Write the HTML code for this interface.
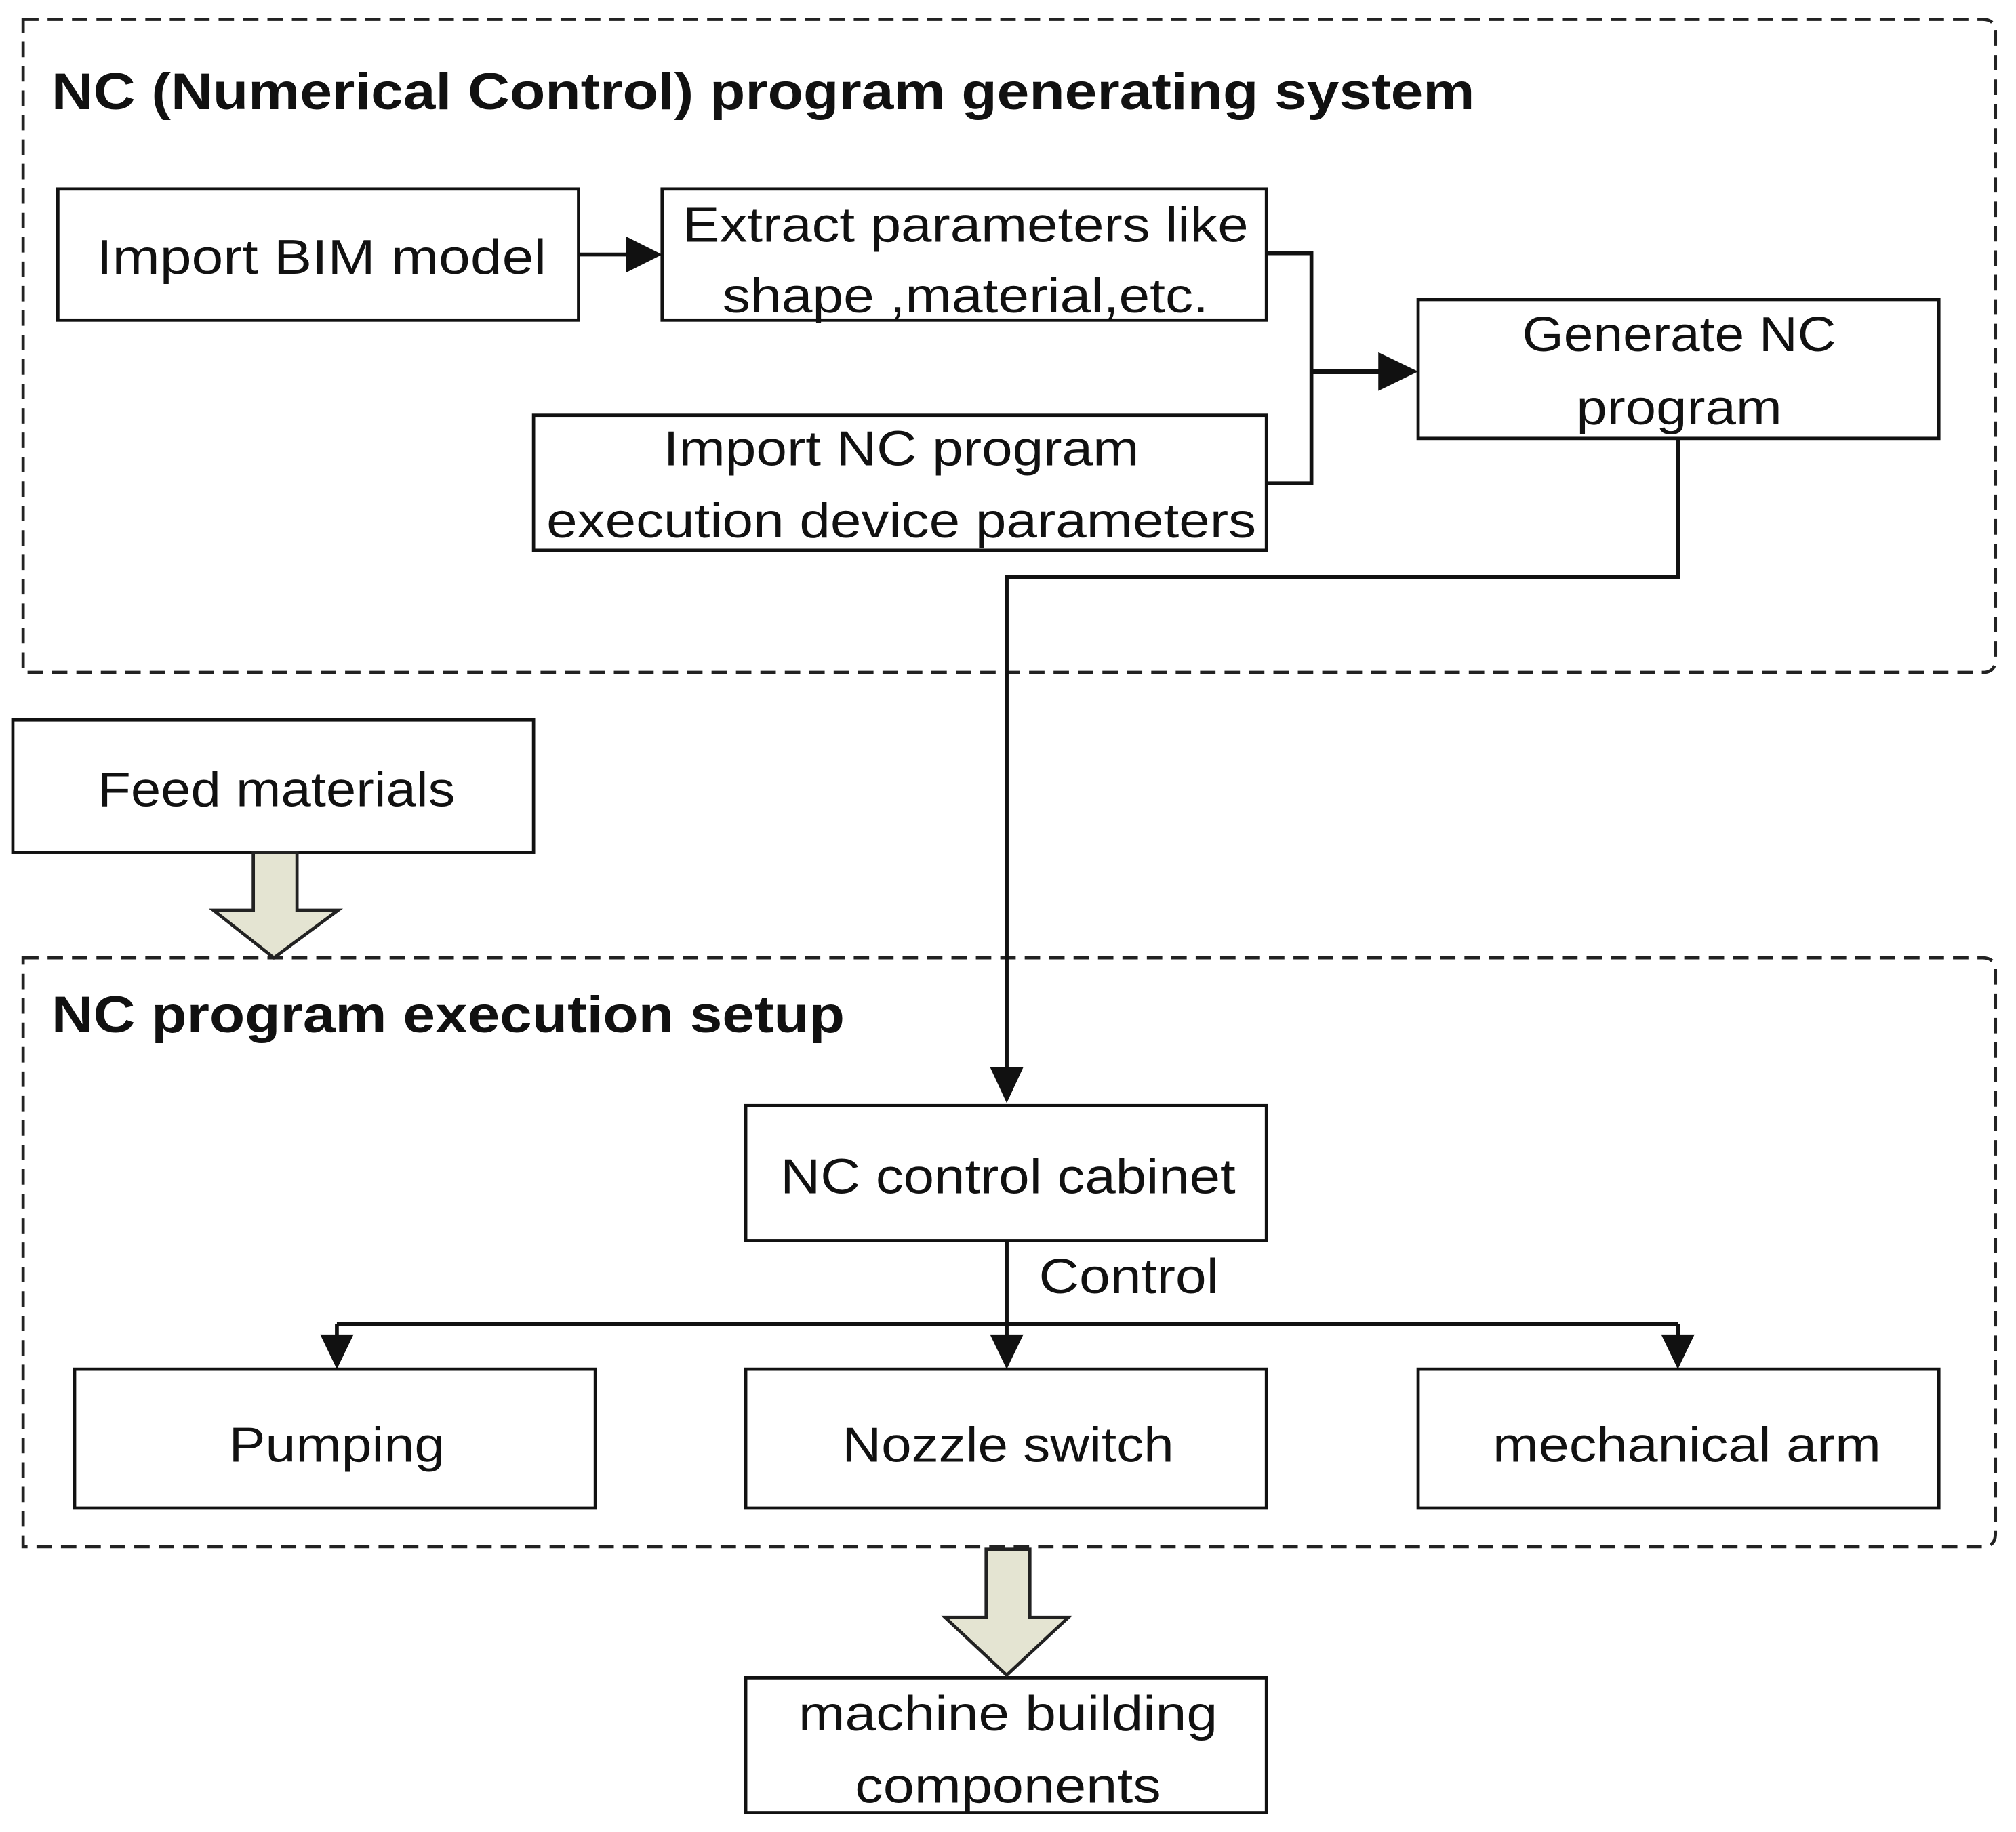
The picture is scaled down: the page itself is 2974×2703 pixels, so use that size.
<!DOCTYPE html>
<html><head><meta charset="utf-8"><style>html,body{margin:0;padding:0;background:#fff}svg{display:block}</style></head>
<body>
<svg width="2974" height="2703" viewBox="0 0 1568 1425" preserveAspectRatio="none" xmlns="http://www.w3.org/2000/svg" font-family="'Liberation Sans', sans-serif">
<defs>
<marker id="ah" viewBox="0 0 10 10" refX="10" refY="5" markerWidth="5" markerHeight="5" orient="auto" markerUnits="userSpaceOnUse" style="overflow:visible">
</marker>
</defs>
<rect width="1568" height="1425" fill="#fff"/>
<g fill="none" stroke="#222" stroke-width="2.5" stroke-dasharray="12,7">
<path d="M18,15 H1542 Q1552,15 1552,25 V513 Q1552,523 1542,523 H18 Z"/>
<path d="M18,745 H1542 Q1552,745 1552,755 V1193 Q1552,1203 1542,1203 H18 Z"/>
</g>
<g font-weight="bold" font-size="40" fill="#111">
<text x="40" y="85" textLength="1107" lengthAdjust="spacingAndGlyphs">NC (Numerical Control) program generating system</text>
<text x="40" y="803" textLength="617" lengthAdjust="spacingAndGlyphs">NC program execution setup</text>
</g>
<g fill="#fff" stroke="#111" stroke-width="2.5">
<rect x="45" y="147" width="405" height="102"/>
<rect x="515" y="147" width="470" height="102"/>
<rect x="1103" y="233" width="405" height="108"/>
<rect x="415" y="323" width="570" height="105"/>
<rect x="10" y="560" width="405" height="103"/>
<rect x="580" y="860" width="405" height="105"/>
<rect x="58" y="1065" width="405" height="108"/>
<rect x="580" y="1065" width="405" height="108"/>
<rect x="1103" y="1065" width="405" height="108"/>
<rect x="580" y="1305" width="405" height="105"/>
</g>
<g fill="none" stroke="#111" stroke-width="3">
<path d="M450,198 H490"/>
<path d="M985,197 H1020 V376 H985"/>
<path d="M1020,289 H1078" stroke-width="4"/>
<path d="M1305,341 V449 H783 V832"/>
<path d="M783,965 V1040"/>
<path d="M262,1030 H1305"/>
<path d="M262,1030 V1042 M1305,1030 V1042"/>
</g>
<g fill="#111">
<polygon points="487,184 515,198 487,212"/>
<polygon points="1072,274 1103,289 1072,304"/>
<polygon points="770,830 783,858 796,830"/>
<polygon points="249,1038 262,1065 275,1038"/>
<polygon points="770,1038 783,1065 796,1038"/>
<polygon points="1292,1038 1305,1065 1318,1038"/>
</g>
<g fill="#e4e4d2" stroke="#222" stroke-width="2.5">
<polygon points="197,663 231,663 231,708 263,708 213,745 166,708 197,708"/>
<polygon points="767,1205 801,1205 801,1258 831,1258 783,1303 735,1258 767,1258"/>
</g>
<g font-size="38" fill="#111" text-anchor="middle">
<text x="250" y="213" textLength="350" lengthAdjust="spacingAndGlyphs">Import BIM model</text>
<text x="751" y="188" textLength="440" lengthAdjust="spacingAndGlyphs">Extract parameters like</text>
<text x="751" y="243" textLength="378" lengthAdjust="spacingAndGlyphs">shape ,material,etc.</text>
<text x="1306" y="273" textLength="244" lengthAdjust="spacingAndGlyphs">Generate NC</text>
<text x="1306" y="330" textLength="160" lengthAdjust="spacingAndGlyphs">program</text>
<text x="701" y="362" textLength="370" lengthAdjust="spacingAndGlyphs">Import NC program</text>
<text x="701" y="418" textLength="552" lengthAdjust="spacingAndGlyphs">execution device parameters</text>
<text x="215" y="627" textLength="278" lengthAdjust="spacingAndGlyphs">Feed materials</text>
<text x="784" y="928" textLength="354" lengthAdjust="spacingAndGlyphs">NC control cabinet</text>
<text x="262" y="1137" textLength="168" lengthAdjust="spacingAndGlyphs">Pumping</text>
<text x="784" y="1137" textLength="258" lengthAdjust="spacingAndGlyphs">Nozzle switch</text>
<text x="1312" y="1137" textLength="302" lengthAdjust="spacingAndGlyphs">mechanical arm</text>
<text x="784" y="1346" textLength="326" lengthAdjust="spacingAndGlyphs">machine building</text>
<text x="784" y="1402" textLength="238" lengthAdjust="spacingAndGlyphs">components</text>
<text x="878" y="1006" textLength="140" lengthAdjust="spacingAndGlyphs">Control</text>
</g>
</svg>
</body></html>
